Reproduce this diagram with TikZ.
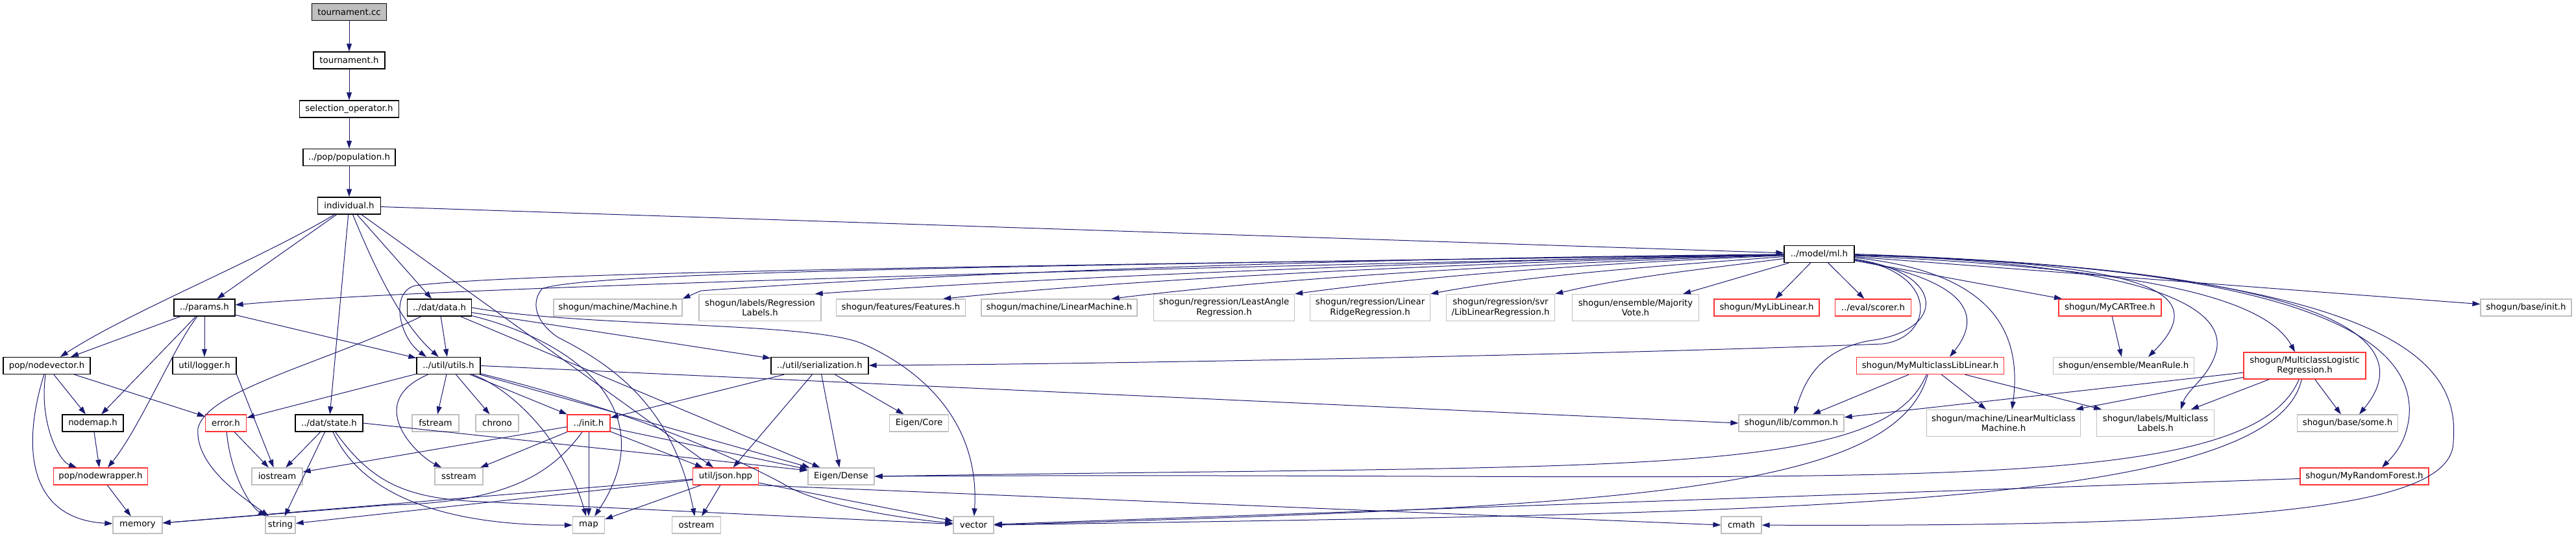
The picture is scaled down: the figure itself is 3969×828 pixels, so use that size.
\documentclass[tikz,border=0pt]{standalone}
\usepackage{fontspec}
\setmainfont{DejaVu Sans}
\usetikzlibrary{arrows.meta}
\definecolor{edgeblue}{HTML}{191970}
\definecolor{incgray}{HTML}{BFBFBF}
\definecolor{incred}{HTML}{FF3030}
\definecolor{rootfill}{HTML}{BFBFBF}

\begin{document}
\begin{tikzpicture}[
  x=1pt, y=-1pt,
  font=\fontsize{13.3}{15.5}\selectfont,
  >={Triangle[length=12pt,width=8pt]},
  incl/.style={->, draw=edgeblue, line width=1pt},
  filebox/.style={
    rectangle, fill=white, line width=1.3pt,
    minimum height=26pt, inner sep=0pt, align=center
  },
  docfile/.style={filebox, draw=black},
  sysfile/.style={filebox, draw=incgray},
  redfile/.style={filebox, draw=incred},
  rootfile/.style={filebox, draw=black, fill=rootfill},
  twoline/.style={minimum height=41pt}
]
\useasboundingbox (0,0) rectangle (3969,828);

% Include chain of the source file.
\node[rootfile, minimum width=115pt] (tournamentCc) at (538,18.5) {tournament.cc};
\node[docfile, minimum width=110pt] (tournamentH) at (538,93) {tournament.h};
\node[docfile, minimum width=153pt] (selectionOp) at (538,168) {selection\_operator.h};
\node[docfile, minimum width=142pt] (population) at (538,242.5) {../pop/population.h};
\node[docfile, minimum width=97pt] (individual) at (538,317) {individual.h};
\node[docfile, minimum width=108pt] (modelMl) at (2803,391.5) {../model/ml.h};

% Row of headers below the model.
\node[docfile, minimum width=94pt] (params) at (315,474) {../params.h};
\node[docfile, minimum width=99pt] (datData) at (677,474) {../dat/data.h};
\node[sysfile, minimum width=198pt] (machine) at (952,474) {shogun/machine/Machine.h};
\node[sysfile, twoline, minimum width=188pt] (regLabels) at (1171,474)
  {shogun/labels/Regression\\Labels.h};
\node[sysfile, minimum width=199pt] (features) at (1388,474) {shogun/features/Features.h};
\node[sysfile, minimum width=240pt] (linearMachine) at (1632,474)
  {shogun/machine/LinearMachine.h};
\node[sysfile, twoline, minimum width=217pt] (leastAngle) at (1886,474)
  {shogun/regression/LeastAngle\\Regression.h};
\node[sysfile, twoline, minimum width=185pt] (ridgeReg) at (2111,474)
  {shogun/regression/Linear\\RidgeRegression.h};
\node[sysfile, twoline, minimum width=167pt] (svrReg) at (2312,474)
  {shogun/regression/svr\\/LibLinearRegression.h};
\node[sysfile, twoline, minimum width=195pt] (majorityVote) at (2520,474)
  {shogun/ensemble/Majority\\Vote.h};
\node[redfile, minimum width=162pt] (myLibLinear) at (2722,474) {shogun/MyLibLinear.h};
\node[redfile, minimum width=117pt] (scorer) at (2886,474) {../eval/scorer.h};
\node[redfile, minimum width=158pt] (myCarTree) at (3251,474) {shogun/MyCARTree.h};
\node[sysfile, minimum width=140pt] (baseInit) at (3892,474) {shogun/base/init.h};

\node[docfile, minimum width=134pt] (nodeVector) at (72,563.5) {pop/nodevector.h};
\node[docfile, minimum width=98pt] (logger) at (315,563.5) {util/logger.h};
\node[docfile, minimum width=98pt] (utils) at (691,563.5) {../util/utils.h};
\node[docfile, minimum width=150pt] (serialization) at (1263,563.5) {../util/serialization.h};
\node[redfile, minimum width=227pt] (myMcLibLinear) at (2974,563.5)
  {shogun/MyMulticlassLibLinear.h};
\node[sysfile, minimum width=217pt] (meanRule) at (3272,563.5) {shogun/ensemble/MeanRule.h};
\node[redfile, twoline, minimum width=188pt] (mcLogistic) at (3551,563.5)
  {shogun/MulticlassLogistic\\Regression.h};

\node[docfile, minimum width=94pt] (nodeMap) at (143,652) {nodemap.h};
\node[redfile, minimum width=63pt] (errorH) at (348,652) {error.h};
\node[docfile, minimum width=104pt] (state) at (507,652) {../dat/state.h};
\node[sysfile, minimum width=72pt] (fstream) at (671,652) {fstream};
\node[sysfile, minimum width=66pt] (chrono) at (766,652) {chrono};
\node[redfile, minimum width=66pt] (initH) at (907,652) {../init.h};
\node[sysfile, minimum width=91pt] (eigenCore) at (1416,652) {Eigen/Core};
\node[sysfile, minimum width=162pt] (libCommon) at (2760,652) {shogun/lib/common.h};
\node[sysfile, twoline, minimum width=237pt] (linMcMachine) at (3087,652)
  {shogun/machine/LinearMulticlass\\Machine.h};
\node[sysfile, twoline, minimum width=181pt] (mcLabels) at (3321,652)
  {shogun/labels/Multiclass\\Labels.h};
\node[sysfile, minimum width=155pt] (baseSome) at (3617,652) {shogun/base/some.h};

\node[redfile, minimum width=145pt] (nodeWrapper) at (155,734) {pop/nodewrapper.h};
\node[sysfile, minimum width=78pt] (iostream) at (427,734) {iostream};
\node[sysfile, minimum width=74pt] (sstream) at (707,734) {sstream};
\node[redfile, minimum width=101pt] (jsonHpp) at (1118,734) {util/json.hpp};
\node[sysfile, minimum width=102pt] (eigenDense) at (1296,734) {Eigen/Dense};
\node[redfile, minimum width=198pt] (myRandomForest) at (3643,734) {shogun/MyRandomForest.h};

\node[sysfile, minimum width=76pt] (memory) at (212,809) {memory};
\node[sysfile, minimum width=46pt] (stringH) at (432,809) {string};
\node[sysfile, minimum width=49pt] (mapH) at (907,809) {map};
\node[sysfile, minimum width=75pt] (ostream) at (1073,809) {ostream};
\node[sysfile, minimum width=62pt] (vectorH) at (1500,809) {vector};
\node[sysfile, minimum width=62pt] (cmath) at (2683,809) {cmath};

% Chain down to individual.h.
\draw[incl] (tournamentCc) -- (tournamentH);
\draw[incl] (tournamentH) -- (selectionOp);
\draw[incl] (selectionOp) -- (population);
\draw[incl] (population) -- (individual);

% individual.h includes.
\draw[incl] (individual) -- (modelMl);
\draw[incl] (individual) -- (params);
\draw[incl] (individual) .. controls (400,400) and (200,480) .. (nodeVector);
\draw[incl] (individual) -- (state);
\draw[incl] (individual) .. controls (580,420) and (620,500) .. (utils);
\draw[incl] (individual) -- (datData);
\draw[incl] (individual) -- (jsonHpp);

% ml.h includes, left fan.
\draw[incl] (modelMl) .. controls (1900,410) and (700,440) .. (params);
\draw[incl] (modelMl) .. controls (1500,410) and (800,420) .. (640,440)
  .. controls (600,450) and (615,520) .. ([xshift=-34pt]utils.north);
\draw[incl] (modelMl) .. controls (1500,410) and (900,420) .. (835,445)
  .. controls (815,470) and (830,500) .. (860,520)
  .. controls (960,570) and (1040,640) .. (ostream);
\draw[incl] (modelMl) .. controls (2000,398) and (1400,425) .. (1080,448)
  -- (machine.north east);
\draw[incl] (modelMl) .. controls (2300,400) and (1650,425) .. ([xshift=-10pt]regLabels.north east);
\draw[incl] (modelMl) .. controls (2350,402) and (1800,425) .. ([xshift=-35pt]features.north east);
\draw[incl] (modelMl) .. controls (2400,404) and (2000,425) .. ([xshift=-40pt]linearMachine.north east);
\draw[incl] (modelMl) .. controls (2450,406) and (2200,425) .. (leastAngle.north east);
\draw[incl] (modelMl) .. controls (2550,410) and (2350,425) .. (ridgeReg.north east);
\draw[incl] (modelMl) .. controls (2620,415) and (2500,428) .. (svrReg.north east);
\draw[incl] (modelMl) -- ([xshift=-25pt]majorityVote.north east);
\draw[incl] (modelMl) -- (myLibLinear);
\draw[incl] (modelMl) -- (scorer);
\draw[incl] (modelMl) .. controls (2990,420) and (2980,520) .. (2900,530)
  .. controls (2500,545) and (1800,560) .. (serialization);
\draw[incl] (modelMl) .. controls (3000,420) and (3000,510) .. (2880,525)
  .. controls (2800,540) and (2780,590) .. (libCommon);

% ml.h includes, right fan.
\draw[incl] (modelMl) .. controls (3020,430) and (3060,480) .. ([xshift=30pt]myMcLibLinear.north);
\draw[incl] (modelMl) .. controls (3080,420) and (3115,520) .. ([xshift=13pt]linMcMachine.north);
\draw[incl] (modelMl) -- (myCarTree);
\draw[incl] (modelMl) .. controls (3280,405) and (3420,440) .. ([xshift=38pt]meanRule.north);
\draw[incl] (modelMl) .. controls (3300,405) and (3430,470) .. (3415,540)
  .. controls (3405,580) and (3370,600) .. ([xshift=39pt]mcLabels.north);
\draw[incl] (modelMl) .. controls (3200,410) and (3480,440) .. ([xshift=-15pt]mcLogistic.north);
\draw[incl] (modelMl) .. controls (3500,410) and (3750,500) .. ([xshift=18pt]baseSome.north);
\draw[incl] (modelMl) .. controls (3550,410) and (3720,520) .. (3712,640)
  .. controls (3708,680) and (3690,700) .. ([xshift=27pt]myRandomForest.north);
\draw[incl] (modelMl) -- (baseInit);
\draw[incl] (modelMl.east) .. controls (3700,420) and (3790,560) .. (3780,680)
  .. controls (3780,780) and (3500,812) .. (cmath);

% params.h and the node headers.
\draw[incl] (params) -- (nodeVector);
\draw[incl] (params) -- (logger);
\draw[incl] (params) -- (nodeMap);
\draw[incl] (params) .. controls (270,530) and (215,660) .. (nodeWrapper);
\draw[incl] (params) -- (utils);
\draw[incl] (nodeVector) .. controls (30,700) and (50,800) .. (memory);
\draw[incl] (nodeVector) .. controls (60,650) and (90,710) .. (nodeWrapper);
\draw[incl] (nodeVector) -- (nodeMap);
\draw[incl] (nodeVector) -- (errorH);
\draw[incl] (nodeMap) -- (nodeWrapper);
\draw[incl] (nodeWrapper) -- (memory);
\draw[incl] (logger.south east) -- (iostream);
\draw[incl] (errorH) -- (iostream);
\draw[incl] (errorH) .. controls (355,730) and (385,780) .. (stringH);

% state.h and data.h.
\draw[incl] (state) -- (iostream);
\draw[incl] (state) -- (stringH);
\draw[incl] (state) .. controls (560,770) and (700,810) .. (mapH);
\draw[incl] (state) .. controls (570,740) and (620,765) .. (720,772) -- (vectorH);
\draw[incl] (state.east) -- (eigenDense.170);
\draw[incl] (datData) .. controls (500,560) and (320,600) .. (305,660)
  .. controls (300,720) and (380,770) .. (stringH);
\draw[incl] (datData) -- (utils);
\draw[incl] (datData) .. controls (900,530) and (1020,640) .. (mapH);
\draw[incl] (datData) -- (serialization);
\draw[incl] (datData) -- (eigenDense);
\draw[incl] (datData.east) .. controls (900,505) and (1250,495) .. (1330,530)
  .. controls (1420,570) and (1510,650) .. (vectorH);

% utils.h, init.h and serialization.h.
\draw[incl] (utils) -- (errorH);
\draw[incl] (utils) .. controls (560,620) and (640,700) .. (sstream);
\draw[incl] (utils) -- (fstream);
\draw[incl] (utils) -- (chrono);
\draw[incl] (utils) -- (initH);
\draw[incl] (utils) .. controls (790,600) and (870,680) .. (mapH);
\draw[incl] (utils) -- (eigenDense);
\draw[incl] (utils) .. controls (1000,640) and (1150,715) .. (1206,745)
  .. controls (1260,780) and (1400,800) .. (vectorH);
\draw[incl] (utils.east) -- (libCommon.west);
\draw[incl] (initH) -- (iostream);
\draw[incl] (initH) -- (sstream);
\draw[incl] (initH) .. controls (850,730) and (780,775) .. (600,778) -- (memory);
\draw[incl] (initH) -- (mapH);
\draw[incl] (initH) -- (jsonHpp);
\draw[incl] (initH) -- (eigenDense);
\draw[incl] (serialization) -- (initH);
\draw[incl] (serialization) -- (jsonHpp);
\draw[incl] (serialization) -- (eigenDense);
\draw[incl] (serialization) -- (eigenCore);

% json.hpp.
\draw[incl] (jsonHpp) -- (memory);
\draw[incl] (jsonHpp) -- (stringH);
\draw[incl] (jsonHpp) -- (mapH);
\draw[incl] (jsonHpp) -- (ostream);
\draw[incl] (jsonHpp) -- (vectorH);
\draw[incl] (jsonHpp.south east) -- (cmath.west);

% shogun wrappers.
\draw[incl] (myCarTree) -- (meanRule);
\draw[incl] (myMcLibLinear) -- (libCommon);
\draw[incl] (myMcLibLinear) -- (linMcMachine);
\draw[incl] (myMcLibLinear) -- (mcLabels);
\draw[incl] (myMcLibLinear) .. controls (2900,740) and (2500,715) .. (eigenDense.east);
\draw[incl] (myMcLibLinear) .. controls (2920,760) and (2500,780) .. (vectorH.east);
\draw[incl] (mcLogistic) -- (libCommon);
\draw[incl] (mcLogistic) -- (linMcMachine);
\draw[incl] (mcLogistic) -- (mcLabels);
\draw[incl] (mcLogistic) -- (baseSome);
\draw[incl] (mcLogistic) .. controls (3460,780) and (2800,725) .. (eigenDense.east);
\draw[incl] (mcLogistic) .. controls (3500,790) and (2700,790) .. (vectorH.east);
\draw[incl] (myRandomForest) -- (vectorH);

\end{tikzpicture}
\end{document}
